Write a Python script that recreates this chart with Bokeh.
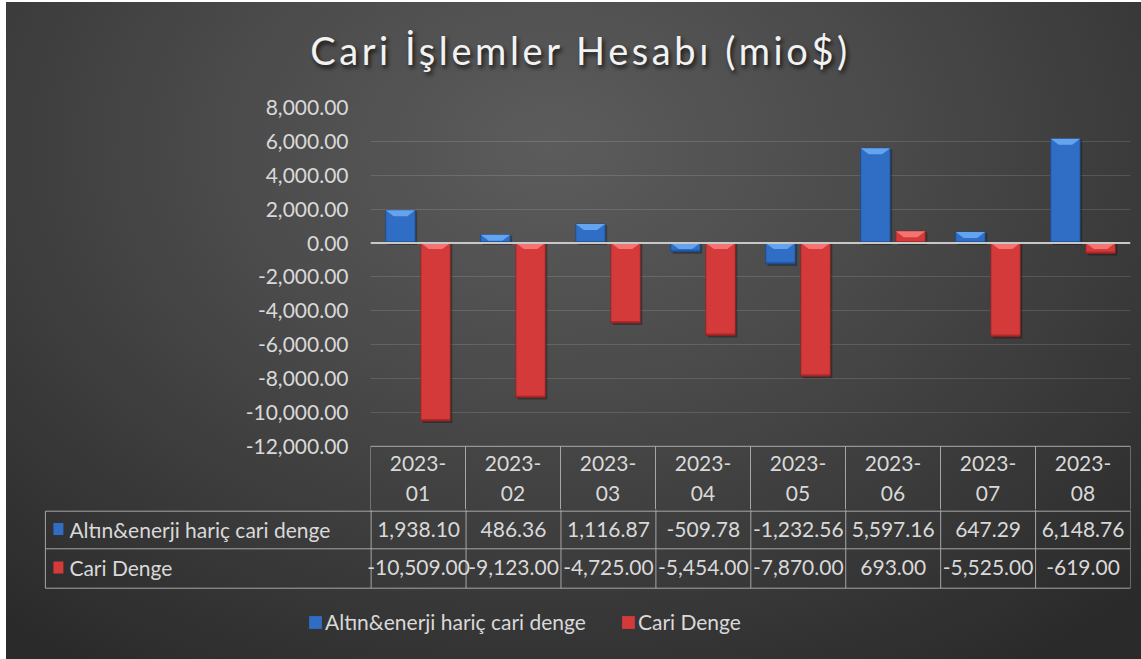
from bokeh.plotting import figure
from bokeh.models import (Range1d, FixedTicker, NumeralTickFormatter, Span, Div,
                          Legend, LegendItem)
from bokeh.layouts import column
from bokeh.core.properties import value
from bokeh.embed import file_html
from bokeh.resources import INLINE

# ---------------- data ----------------
categories = ["2023-01", "2023-02", "2023-03", "2023-04",
              "2023-05", "2023-06", "2023-07", "2023-08"]
altin_enerji = [1938.10, 486.36, 1116.87, -509.78, -1232.56, 5597.16, 647.29, 6148.76]
cari_denge = [-10509.00, -9123.00, -4725.00, -5454.00, -7870.00, 693.00, -5525.00, -619.00]
series_names = ["Altın&enerji hariç cari denge", "Cari Denge"]
y_ticks = [-12000, -10000, -8000, -6000, -4000, -2000, 0, 2000, 4000, 6000, 8000]
title_text = "Cari İşlemler Hesabı (mio$)"

# ---------------- styles ----------------
FONT = "Lato"
TXT = "#d9d9d9"
LINE = "#a6a6a6"
BLUE, BLUE_L, BLUE_D = "#2f6ec4", "#64a4ee", "#1c4a8c"
RED, RED_L, RED_D = "#d43a3a", "#f47474", "#8e2020"
W = 1135
series = [(altin_enerji, BLUE, BLUE_L, BLUE_D, -0.185), (cari_denge, RED, RED_L, RED_D, 0.185)]
n = len(categories)
bar_w = 0.31

# ---------------- title ----------------
TITLE_H = 90
title = Div(text=f'<div style="width:1135px;text-align:center;padding-left:14px;box-sizing:border-box;'
                 f'padding-top:25px;font-family:{FONT};font-size:38px;letter-spacing:3.6px;color:#f2f2f2;'
                 f'line-height:normal;white-space:nowrap;'
                 f'text-shadow:2px 3px 4px rgba(0,0,0,0.75);">{title_text}</div>',
            width=W, height=TITLE_H, margin=0)

# ---------------- chart (incl. table header row) ----------------
top_px, zero_bottom_px, frame_bottom_px = 107.0, 445.8, 509.0
px_per_unit = (zero_bottom_px - top_px) / (y_ticks[-1] - y_ticks[0])
y_start = y_ticks[0] - (frame_bottom_px - zero_bottom_px) / px_per_unit
HA = int(frame_bottom_px - 2 - TITLE_H)
col_px = (1130 - 370) / n

def px_to_y(py):
    return y_ticks[0] - (py - zero_bottom_px) / px_per_unit

pA = figure(width=W, height=HA, output_backend="svg", toolbar_location=None,
            x_range=Range1d(0, n), y_range=Range1d(y_start, y_ticks[-1]),
            x_axis_location=None, min_border_left=364, min_border_right=11,
            min_border_top=int(top_px - 2 - TITLE_H), min_border_bottom=0,
            background_fill_color=None, border_fill_color=None, outline_line_color=None,
            frame_align=False, margin=0)
ya = pA.yaxis[0]
ya.ticker = FixedTicker(ticks=y_ticks)
ya.formatter = NumeralTickFormatter(format="0,0.00")
ya.axis_line_color = None
ya.major_tick_line_color = None
ya.minor_tick_line_color = None
ya.major_tick_out = 0
ya.major_label_standoff = 22
ya.major_label_text_color = TXT
ya.major_label_text_font = FONT
ya.major_label_text_font_size = "21px"
pA.xgrid.visible = False
pA.ygrid.grid_line_color = "#ffffff"
pA.ygrid.grid_line_alpha = 0.13

bevel_units = 6 / px_per_unit
shade_units = 2 / px_per_unit
sh_dx = 2 / col_px
sh_dy = 2 / px_per_unit
inset = 8 / col_px
for vals, col, col_l, col_d, off in series:
    xs = [i + 0.5 + off for i in range(n)]
    tops = [max(v, 0) for v in vals]
    bots = [min(v, 0) for v in vals]
    # soft drop shadow
    pA.vbar(x=[x + sh_dx for x in xs], top=[t - sh_dy * 0.5 for t in tops],
            bottom=[b - sh_dy for b in bots], width=bar_w, fill_color="#000000",
            fill_alpha=0.3, line_color=None)
    pA.vbar(x=xs, top=tops, bottom=bots, width=bar_w, fill_color=col,
            line_color=col_d, line_width=1, line_alpha=0.8)
    # darker bottom edge
    pA.vbar(x=xs, top=[b + min(shade_units, t - b) for t, b in zip(tops, bots)],
            bottom=bots, width=bar_w, fill_color=col_d, fill_alpha=0.6, line_color=None)
    # light bevel on top edge
    bx, by = [], []
    for x, t, b in zip(xs, tops, bots):
        d = min(bevel_units, t - b)
        bx.append([x - bar_w / 2, x + bar_w / 2, x + bar_w / 2 - inset, x - bar_w / 2 + inset])
        by.append([t, t, t - d, t - d])
    pA.patches(bx, by, fill_color=col_l, line_color=None)

pA.add_layout(Span(location=0, dimension="width", line_color="#c8c8c8", line_width=2))

# table header row (category labels) below the value axis
pA.segment(x0=[0], y0=[y_ticks[0]], x1=[n], y1=[y_ticks[0]], line_color=LINE, line_width=1)
pA.segment(x0=list(range(n + 1)), y0=[y_ticks[0]] * (n + 1),
           x1=list(range(n + 1)), y1=[y_start] * (n + 1), line_color=LINE, line_width=1)
cx = [i + 0.5 for i in range(n)]
pA.text(x=cx, y=[px_to_y(463)] * n, text=[c.split("-")[0] + "-" for c in categories],
        text_align="center", text_baseline="middle", text_color=TXT,
        text_font=value(FONT), text_font_size="21px")
pA.text(x=cx, y=[px_to_y(492.5)] * n, text=[c.split("-")[1] for c in categories],
        text_align="center", text_baseline="middle", text_color=TXT,
        text_font=value(FONT), text_font_size="21px")

# ---------------- data table rows + legend ----------------
B0 = frame_bottom_px
HB = int(659 - B0)
xL = -(370 - 44) / col_px
pB = figure(width=W, height=HB, output_backend="svg", toolbar_location=None,
            x_range=Range1d(xL - 0.02, n), y_range=Range1d(HB, 0),
            x_axis_location=None, y_axis_location=None,
            min_border_left=37, min_border_right=11, min_border_top=0, min_border_bottom=0,
            background_fill_color=None, border_fill_color=None, outline_line_color=None,
            frame_align=False, margin=0)
pB.grid.visible = False

r_head, r1, r2 = 510.7 - B0, 548.3 - B0, 587.7 - B0
pB.segment(x0=list(range(n + 1)), y0=[0] * (n + 1), x1=list(range(n + 1)), y1=[r2] * (n + 1),
           line_color=LINE, line_width=1)
pB.segment(x0=[xL] * 3, y0=[r_head, r1, r2], x1=[n] * 3, y1=[r_head, r1, r2],
           line_color=LINE, line_width=1)
pB.segment(x0=[xL], y0=[r_head], x1=[xL], y1=[r2], line_color=LINE, line_width=1)

row_y = [(r_head + r1) / 2 - 1, (r1 + r2) / 2 - 1]
markers = []
for (vals, col, col_l, col_d, off), name, ry in zip(series, series_names, row_y):
    pB.text(x=cx, y=[ry] * n, text=[f"{v:,.2f}" for v in vals],
            text_align="center", text_baseline="middle", text_color=TXT,
            text_font=value(FONT), text_font_size="21px")
    pB.text(x=[xL + 24 / col_px], y=[ry], text=[name], text_align="left",
            text_baseline="middle", text_color=TXT, text_font=value(FONT),
            text_font_size="21px")
    m = pB.rect(x=[xL + 13 / col_px], y=[ry], width=10, height=12,
                width_units="screen", height_units="screen", fill_color=col, line_color=None)
    markers.append(m)

legend = Legend(items=[LegendItem(label=nm, renderers=[m]) for nm, m in zip(series_names, markers)],
                orientation="horizontal", location=(264, 25),
                glyph_width=16, glyph_height=16, label_standoff=2, spacing=34, padding=0,
                margin=0, background_fill_alpha=0, border_line_color=None,
                label_text_color=TXT, label_text_font=FONT, label_text_font_size="21px")
pB.add_layout(legend)

layout = column(title, pA, pB, spacing=0, margin=(2, 0, 0, 6),
                styles={"background": "radial-gradient(ellipse 75% 95% at 48% 22%, #5c5c5c 0%, "
                                      "#4a4a4a 40%, #2a2a2a 100%)"})

open("out.html", "w").write(file_html(layout, INLINE))
